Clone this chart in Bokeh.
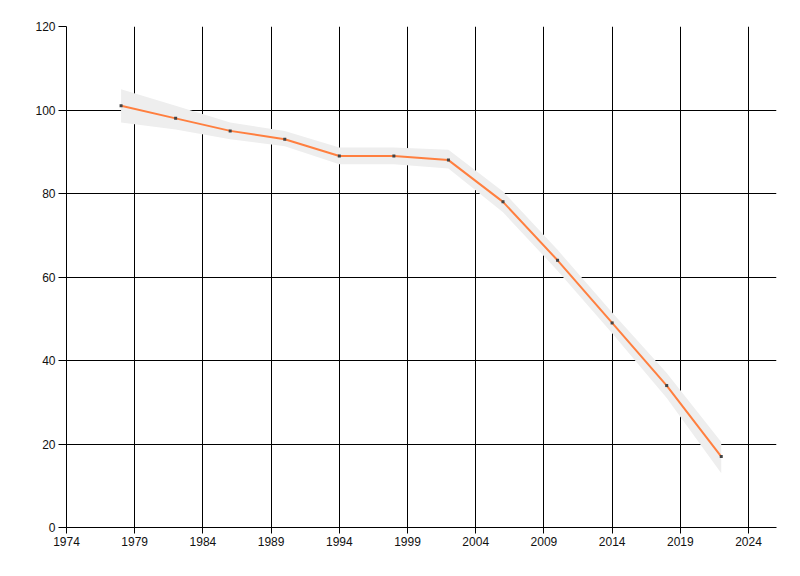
from bokeh.plotting import figure
from bokeh.models import Range1d, FixedTicker, ColumnDataSource
from bokeh.embed import file_html
from bokeh.resources import INLINE

years = [1978, 1982, 1986, 1990, 1994, 1998, 2002, 2006, 2010, 2014, 2018, 2022]
values = [101, 98, 95, 93, 89, 89, 88, 78, 64, 49, 34, 17]
band_lower = [97, 95.3, 93, 91.3, 87, 87, 86, 75.5, 61.5, 46.5, 31, 13]
band_upper = [105, 101, 97, 95, 91, 91, 90.5, 80.5, 66.5, 51.5, 37, 20.5]

x_ticks = [1974, 1979, 1984, 1989, 1994, 1999, 2004, 2009, 2014, 2019, 2024]
y_ticks = [0, 20, 40, 60, 80, 100, 120]

src = ColumnDataSource(dict(x=years, y=values, lo=band_lower, hi=band_upper))

p = figure(width=792, height=568, output_backend="svg", toolbar_location=None,
           x_range=Range1d(1974, 2026.05), y_range=Range1d(0, 120),
           min_border_left=66, min_border_right=16, min_border_top=26, min_border_bottom=41)
p.outline_line_color = None
p.background_fill_color = "white"
p.border_fill_color = "white"

p.varea(x="x", y1="lo", y2="hi", source=src, fill_color="#eeeeee", fill_alpha=1.0)
p.line(x="x", y="y", source=src, line_color="#ff7f3f", line_width=2)
p.scatter(x="x", y="y", source=src, marker="square", size=3, fill_color="#444444", line_color=None)

p.xaxis.ticker = FixedTicker(ticks=x_ticks)
p.yaxis.ticker = FixedTicker(ticks=y_ticks)
for ax in (p.xaxis[0], p.yaxis[0]):
    ax.axis_line_color = "black"
    ax.axis_line_width = 1
    ax.major_tick_line_color = "black"
    ax.minor_tick_line_color = None
    ax.major_tick_in = 0
    ax.major_label_text_font = "Liberation Sans"
    ax.major_label_text_font_size = "12px"
    ax.major_label_text_color = "#111111"
p.xaxis.major_tick_out = 6
p.yaxis.major_tick_out = 8
p.xaxis.major_label_standoff = 3
p.yaxis.major_label_standoff = 3

for g in (p.xgrid[0], p.ygrid[0]):
    g.grid_line_color = "black"
    g.grid_line_width = 1
    g.grid_line_alpha = 1.0

open("out.html", "w").write(file_html(p, INLINE))
